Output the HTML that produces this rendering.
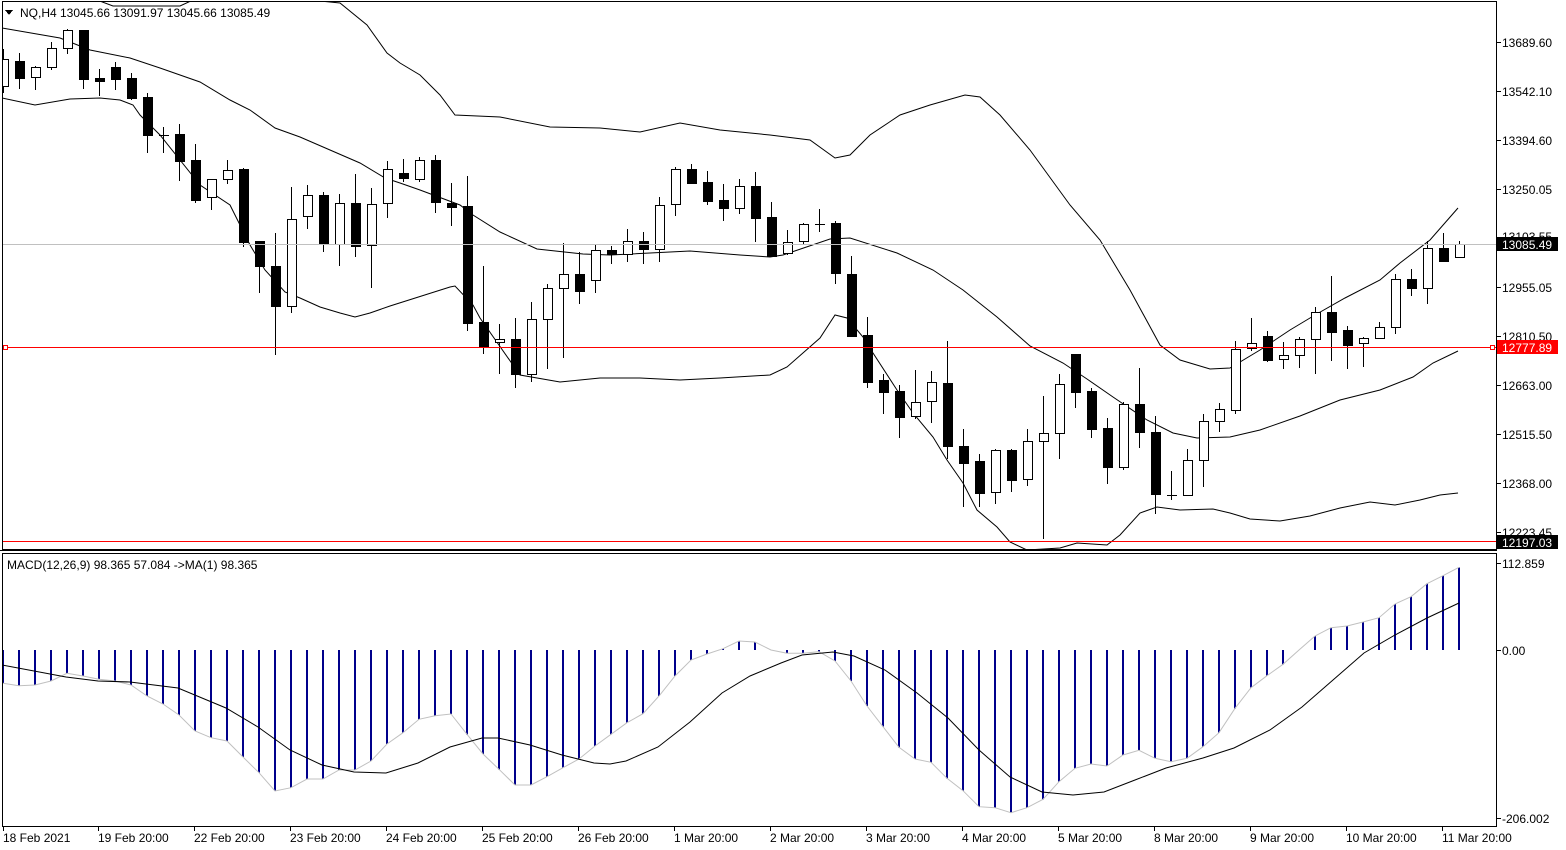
<!DOCTYPE html>
<html><head><meta charset="utf-8"><style>
body{margin:0;background:#fff;width:1566px;height:850px;overflow:hidden}
svg{display:block;font-family:"Liberation Sans",sans-serif;font-size:12px}
</style></head><body>
<svg id="s" width="1566" height="850" xmlns="http://www.w3.org/2000/svg" shape-rendering="crispEdges">
<rect width="1566" height="850" fill="#fff"/>
<defs><clipPath id="cm"><rect x="2" y="2" width="1494" height="547"/></clipPath><clipPath id="cd"><rect x="2" y="554" width="1494" height="272"/></clipPath></defs>
<g id="main" clip-path="url(#cm)"></g>
<g id="macd" clip-path="url(#cd)"></g>
<!-- frames -->
<rect x="2.5" y="1.5" width="1494" height="548" fill="none" stroke="#000"/>
<rect x="2.5" y="553.5" width="1494" height="273" fill="none" stroke="#000"/>
<line x1="0" y1="550.5" x2="1497" y2="550.5" stroke="#000"/>
<line x1="3" y1="244.5" x2="1496" y2="244.5" stroke="#c0c0c0"/>
<line x1="3" y1="347.5" x2="1496" y2="347.5" stroke="#f00"/>
<line x1="3" y1="541.5" x2="1496" y2="541.5" stroke="#f00"/>
<rect x="3.5" y="345.5" width="4" height="4" fill="#fff" stroke="#f00"/>
<rect x="1490.5" y="345.5" width="4" height="4" fill="#fff" stroke="#f00"/>
<g fill="#000">
<text x="1502" y="47">13689.60</text><text x="1502" y="96">13542.10</text><text x="1502" y="145">13394.60</text>
<text x="1502" y="194">13250.05</text><text x="1502" y="241">13103.55</text><text x="1502" y="292">12955.05</text>
<text x="1502" y="341">12810.50</text><text x="1502" y="390">12663.00</text><text x="1502" y="439">12515.50</text>
<text x="1502" y="488">12368.00</text><text x="1502" y="537">12223.45</text>
<text x="1502" y="568">112.859</text><text x="1502" y="655">0.00</text><text x="1502" y="823">-206.002</text>
</g>
<g stroke="#000">
<line x1="1497" y1="42.5" x2="1501" y2="42.5"/><line x1="1497" y1="91.5" x2="1501" y2="91.5"/><line x1="1497" y1="140.5" x2="1501" y2="140.5"/><line x1="1497" y1="189.5" x2="1501" y2="189.5"/><line x1="1497" y1="287.5" x2="1501" y2="287.5"/><line x1="1497" y1="336.5" x2="1501" y2="336.5"/><line x1="1497" y1="385.5" x2="1501" y2="385.5"/><line x1="1497" y1="434.5" x2="1501" y2="434.5"/><line x1="1497" y1="483.5" x2="1501" y2="483.5"/><line x1="1497" y1="532.5" x2="1501" y2="532.5"/><line x1="1497" y1="563.5" x2="1501" y2="563.5"/><line x1="1497" y1="650.5" x2="1501" y2="650.5"/><line x1="1497" y1="818.5" x2="1501" y2="818.5"/>
</g>
<rect x="1497" y="237" width="61" height="14" fill="#000"/><text x="1502" y="249" fill="#fff">13085.49</text>
<rect x="1497" y="340" width="61" height="14" fill="#f00"/><text x="1502" y="352" fill="#fff">12777.89</text>
<rect x="1497" y="535" width="61" height="14" fill="#000"/><text x="1502" y="547" fill="#fff">12197.03</text>
<polygon points="5,10 13,10 9,15" fill="#000"/>
<text x="20" y="17" fill="#000">NQ,H4  13045.66 13091.97 13045.66 13085.49</text>
<text x="7" y="569" fill="#000">MACD(12,26,9) 98.365 57.084  -&gt;MA(1) 98.365</text>
<g fill="#000">
<text x="3" y="842">18 Feb 2021</text><text x="98" y="842">19 Feb 20:00</text><text x="194" y="842">22 Feb 20:00</text>
<text x="290" y="842">23 Feb 20:00</text><text x="386" y="842">24 Feb 20:00</text><text x="482" y="842">25 Feb 20:00</text>
<text x="578" y="842">26 Feb 20:00</text><text x="674" y="842">1 Mar 20:00</text><text x="770" y="842">2 Mar 20:00</text>
<text x="866" y="842">3 Mar 20:00</text><text x="962" y="842">4 Mar 20:00</text><text x="1058" y="842">5 Mar 20:00</text>
<text x="1154" y="842">8 Mar 20:00</text><text x="1250" y="842">9 Mar 20:00</text><text x="1346" y="842">10 Mar 20:00</text>
<text x="1442" y="842">11 Mar 20:00</text>
</g>
<g id="ticks" stroke="#000"></g>
</svg>
<script>
var NS="http://www.w3.org/2000/svg";
function el(p,t,a){var e=document.createElementNS(NS,t);for(var k in a)e.setAttribute(k,a[k]);p.appendChild(e);return e;}
var M=document.getElementById('main'),D=document.getElementById('macd'),T=document.getElementById('ticks');
[3,98,194,290,386,482,578,674,770,866,962,1058,1154,1250,1346,1442].forEach(function(x){el(T,'line',{x1:x+0.5,y1:827,x2:x+0.5,y2:831});});
function pl(p,pts,col,w){el(p,'polyline',{points:pts,fill:'none',stroke:col,'stroke-width':w||1,'shape-rendering':'auto'});}
// bands
pl(M,"2,28 60,38 90,50 130,58 160,68 200,82 230,100 250,110 275,128 300,137 330,150 360,163 385,178 400,183 420,190 460,205 473,215 500,232 537,249 583,254 610,255 690,251 740,255 770,257 783,255 830,239 850,238 897,253 933,270 963,290 997,317 1030,346 1063,363 1087,379 1113,397 1147,420 1173,433 1197,438 1230,437 1260,430 1300,416 1340,400 1380,390 1413,377 1433,363 1458,351","#000");
pl(M,"90,-5 97,0 113,6 180,6 193,0 200,-5 M0,0","#000");
pl(M,"300,-5 310,0 340,3 367,25 387,53 400,63 420,75 440,95 455,115 500,117 550,127 600,128 640,132 680,123 720,130 770,135 810,140 835,158 850,155 870,135 900,115 930,105 965,95 980,97 1000,115 1030,150 1070,205 1100,240 1130,290 1160,345 1180,360 1210,369 1230,368 1260,350 1290,330 1315,315 1345,298 1380,280 1400,263 1430,240 1458,208","#000");
pl(M,"2,98 35,105 70,99 100,98 120,100 133,105 140,115 160,135 200,185 230,205 250,245 265,270 285,292 300,298 320,307 340,313 355,317 370,313 390,306 450,287 455,286 473,305 480,318 520,375 560,382 600,378 640,378 680,380 720,378 770,375 787,367 820,338 835,315 847,318 863,337 873,353 897,390 913,413 933,437 947,460 963,483 977,510 997,527 1010,542 1027,550 1060,548 1077,543 1107,545 1120,535 1140,513 1157,507 1180,510 1213,509 1230,513 1250,519 1280,521 1310,516 1340,508 1370,502 1395,505 1420,500 1440,495 1458,493","#000");
// candles [high, top, bottom, low, black]
var C=[[49,59,86,92,0],[53,61,78,88,1],[66,67,77,89,0],[42,48,67,69,0],[29,30,48,53,0],[30,30,79,88,1],[69,78,81,95,1],[62,67,79,89,1],[73,78,98,99,1],[93,97,135,152,1],
[127,135,135,152,0],[124,134,161,180,1],[144,160,200,202,1],[179,179,197,209,0],[160,170,179,183,0],[168,169,242,246,1],[241,241,266,292,1],[233,266,306,354,1],[187,219,306,312,0],[185,195,216,228,0],
[192,195,244,251,1],[194,203,244,265,0],[174,203,246,256,1],[188,204,245,287,0],[161,169,203,217,0],[159,173,178,181,1],[157,160,179,181,0],[155,160,202,212,1],[183,203,207,225,1],[176,206,323,330,1],
[266,322,347,353,1],[324,339,342,373,0],[318,339,374,387,1],[302,319,374,381,0],[284,288,319,368,0],[243,274,288,357,0],[252,274,291,303,1],[245,250,280,292,0],[246,250,254,263,1],[229,241,254,261,0],
[232,241,249,263,1],[197,205,249,261,0],[167,169,204,215,0],[164,169,183,183,1],[171,182,201,204,1],[184,200,208,220,1],[179,186,208,213,0],[172,186,218,241,1],[202,217,256,256,1],[230,242,253,254,0],
[223,224,241,243,0],[209,224,224,231,0],[221,223,273,283,1],[256,274,336,336,1],[317,335,382,387,1],[374,380,392,413,1],[385,391,417,437,1],[370,402,416,418,0],[371,382,401,422,0],[341,383,446,458,1],
[429,446,463,506,1],[454,461,493,506,1],[449,450,492,503,0],[449,450,480,491,1],[429,441,479,485,0],[396,433,441,538,0],[374,384,433,458,0],[354,354,392,407,1],[388,391,429,437,1],[418,428,467,483,1],
[402,404,467,469,0],[368,404,432,447,1],[416,432,494,513,1],[471,495,495,499,0],[449,460,495,495,0],[414,421,460,486,0],[403,409,421,431,0],[341,349,410,413,0],[318,343,348,350,0],[331,336,360,361,1],
[342,355,359,368,0],[337,339,355,367,0],[307,312,339,373,0],[276,312,332,360,1],[326,330,345,368,1],[337,338,343,366,0],[322,327,338,338,0],[274,279,327,333,0],[269,279,288,295,1],[241,248,288,303,0],
[233,248,261,261,1],[241,244,257,257,0]];
C.forEach(function(c,i){var x=Math.round(3.3+16*i);
 el(M,'line',{x1:x+0.5,y1:c[0],x2:x+0.5,y2:c[3]+1,stroke:'#000'});
 var h=c[2]-c[1];
 if(h<1){el(M,'line',{x1:x-4,y1:c[1]+0.5,x2:x+6,y2:c[1]+0.5,stroke:'#000'});}
 else if(c[4])el(M,'rect',{x:x-4,y:c[1],width:10,height:h+1,fill:'#000'});
 else el(M,'rect',{x:x-3.5,y:c[1]+0.5,width:9,height:h,fill:'#fff',stroke:'#000'});
});
// MACD
var V=[400,407,405,393,370,378,388,393,405,438,462,495,543,563,573,621,668,723,713,687,687,660,660,633,582,548,508,497,492,553,612,658,705,705,680,653,627,588,553,518,491,438,378,330,312,296,273,276].map(function(v){return 550+v/3;});
var V2=[300,310,310,305,333,393,468,530,592,627,637,685,722,770,773,788,773,748,695,655,642,648,615,601,625,635,625,590,548,475,413,377,343,300,258,233,228,216,203,162,140,101,77,52].map(function(v){return 550+v/3;});
V=V.concat(V2);
var pts=[];
V.forEach(function(y,i){var x=Math.round(3.3+16*i);pts.push(x+','+y.toFixed(1));
 var a=Math.min(650,y),b=Math.max(650,y);
 if(b-a>=1)el(D,'rect',{x:x-1,y:a,width:2,height:b-a,fill:'#00008b'});
});
pl(D,pts.join(' '),'#c0c0c0');
pl(D,"2,665 66,677 98,681 130,682 178,688 226,708 258,727 290,750 322,765 354,772 386,773 418,763 450,747 482,738 498,738 530,745 562,755 594,763 610,764 626,761 658,747 690,722 722,693 750,676 781,663 802,655 833,652 854,656 885,670 917,693 948,718 979,750 1010,777 1042,792 1073,795 1104,792 1135,780 1166,768 1203,758 1234,748 1270,730 1302,707 1333,680 1364,653 1395,635 1427,618 1459,603","#000");
</script>
</body></html>
